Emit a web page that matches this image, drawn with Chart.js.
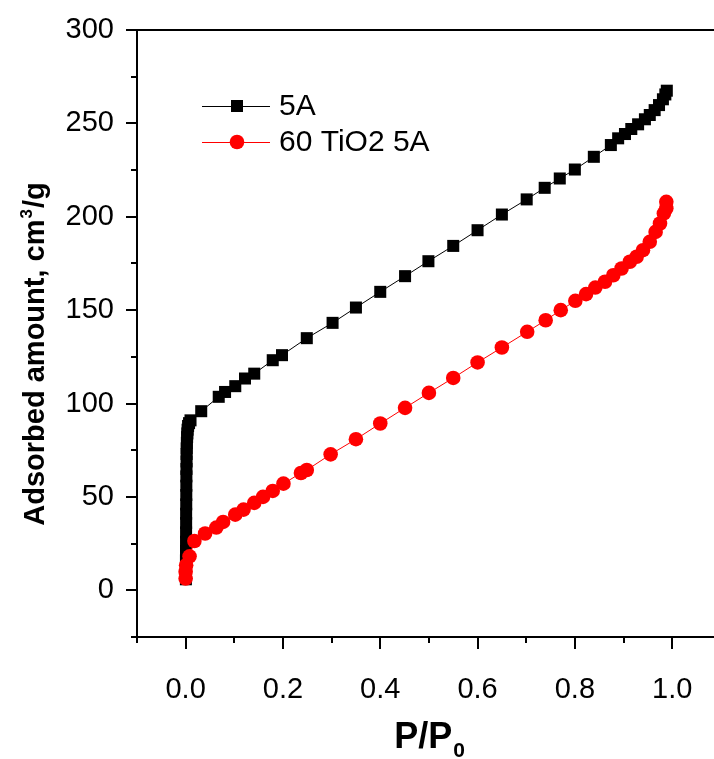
<!DOCTYPE html>
<html>
<head>
<meta charset="utf-8">
<script src="https://cdn.jsdelivr.net/npm/chart.js@4/dist/chart.umd.min.js"></script>
<style>
    html, body {
        margin: 0;
        padding: 0;
        background: #ffffff;
    }
    #chart-wrap {
        width: 714px;
        height: 759px;
        overflow: hidden;
    }
</style>
</head>
<body>
<div id="chart-wrap">
    <canvas id="isotherm-chart" width="714" height="759"></canvas>
</div>
<script>
// series names
const seriesNames = ['5A', '60 TiO2 5A'];

// 5A (black squares)
const zeoliteX = [0.0005, 0.0005, 0.0006, 0.0007, 0.0008, 0.0009, 0.001, 0.001, 0.0012, 0.0013, 0.0014, 0.0015,
    0.0017, 0.0019, 0.002, 0.0022, 0.0025, 0.003, 0.0035, 0.004, 0.005, 0.007, 0.01,
    0.032, 0.068, 0.081, 0.102, 0.122, 0.141, 0.179, 0.198, 0.249, 0.302, 0.35, 0.4, 0.451, 0.499, 0.55,
    0.6, 0.65, 0.701, 0.738, 0.769, 0.8, 0.839, 0.874, 0.889, 0.903, 0.916, 0.93, 0.944, 0.954, 0.964,
    0.973, 0.981, 0.986, 0.989];
const zeoliteY = [5.9, 11, 16, 21, 26, 31, 36, 41, 46, 51, 56, 61,
    65, 69, 73, 76, 79, 82, 84, 86, 88, 89.5, 91,
    95.9, 103.6, 106.2, 109.3, 113.4, 116, 123.2, 125.9, 135, 143.2, 151.4, 159.8, 168.2, 176.2, 184.4,
    192.8, 201.2, 209.3, 215.5, 220.5, 225.3, 232.1, 238.4, 242, 244.3, 247, 249.5, 252.2, 254.5, 257.1,
    259.8, 262.9, 265.5, 267.5];

// 60 TiO2 5A (red circles)
const titaniaX = [0, 0, 0.001, 0.008, 0.018, 0.04, 0.063, 0.077, 0.102, 0.119, 0.141, 0.159, 0.179, 0.201,
    0.237, 0.249, 0.298, 0.35, 0.4, 0.451, 0.5, 0.55, 0.6, 0.65, 0.702, 0.74, 0.771, 0.801, 0.823, 0.842,
    0.862, 0.879, 0.896, 0.913, 0.927, 0.94, 0.954, 0.966, 0.975, 0.983, 0.988, 0.988];
const titaniaY = [6.3, 10, 13.4, 18.2, 26.4, 30.4, 33.6, 36.6, 40.5, 43.2, 46.8, 50, 53.2, 57.1,
    62.8, 64.4, 72.8, 80.9, 89.3, 97.7, 105.7, 113.7, 122, 130, 138.4, 144.6, 150, 155, 158.6, 162.1,
    165.2, 168.7, 172.3, 175.9, 178.6, 182.1, 186.6, 191.9, 196.4, 201.8, 204.5, 208];

// axis ticks
const xTicks = [-0.1, 0, 0.1, 0.2, 0.3, 0.4, 0.5, 0.6, 0.7, 0.8, 0.9, 1.0];
const yTicks = [-25, 0, 25, 50, 75, 100, 125, 150, 175, 200, 225, 250, 275, 300];

const tickFont = "'Liberation Sans', Arial, sans-serif";

function toPoints(xs, ys) {
    let points = [];
    for (let i = 0; i < xs.length; i++) {
        points.push({x: xs[i], y: ys[i]});
    }
    return points;
}

// chart.js adds tick padding to the chart area margins, which we don't want here
function noScalePadding(scale) {
    scale.paddingTop = 0;
    scale.paddingBottom = 0;
    scale.paddingLeft = 0;
    scale.paddingRight = 0;
}

// draws frame line, tick marks, titles and the legend
const decorations = {
    id: 'decorations',
    afterDraw(chart) {
        const ctx = chart.ctx;
        const area = chart.chartArea;
        const xScale = chart.scales.x;
        const yScale = chart.scales.y;
        ctx.save();
        ctx.strokeStyle = '#000000';
        ctx.lineWidth = 2;

        // top frame line
        ctx.beginPath();
        ctx.moveTo(area.left - 1, area.top);
        ctx.lineTo(chart.width, area.top);
        ctx.stroke();

        // y ticks, major every 50
        for (const v of yTicks) {
            const py = Math.round(yScale.getPixelForValue(v));
            const len = (v % 50 === 0) ? 11 : 6;
            ctx.beginPath();
            ctx.moveTo(area.left - len, py);
            ctx.lineTo(area.left, py);
            ctx.stroke();
        }
        // x ticks, major every 0.2
        for (const v of xTicks) {
            const px = Math.round(xScale.getPixelForValue(v));
            const len = (Math.round(v * 10) % 2 === 0) ? 12 : 6;
            ctx.beginPath();
            ctx.moveTo(px, area.bottom);
            ctx.lineTo(px, area.bottom + len);
            ctx.stroke();
        }

        // x title P/P0
        ctx.fillStyle = '#000000';
        ctx.textBaseline = 'alphabetic';
        ctx.textAlign = 'left';
        ctx.font = "bold 36px " + tickFont;
        const mainW = ctx.measureText('P/P').width;
        ctx.font = "bold 21px " + tickFont;
        const subW = ctx.measureText('0').width;
        let startX = 429 - (mainW + subW) / 2;
        ctx.font = "bold 36px " + tickFont;
        ctx.fillText('P/P', startX, 748);
        ctx.font = "bold 21px " + tickFont;
        ctx.fillText('0', startX + mainW + 1, 757);

        // y title, rotated
        ctx.save();
        ctx.translate(44, 355);
        ctx.rotate(-Math.PI / 2);
        ctx.font = "bold 29px " + tickFont;
        const partA = 'Adsorbed amount, cm';
        const partC = '/g';
        const wA = ctx.measureText(partA).width;
        const wC = ctx.measureText(partC).width;
        ctx.font = "bold 17px " + tickFont;
        const wB = ctx.measureText('3').width;
        let sx = -(wA + wB + wC) / 2;
        ctx.font = "bold 29px " + tickFont;
        ctx.fillText(partA, sx, 0);
        ctx.font = "bold 17px " + tickFont;
        ctx.fillText('3', sx + wA + 1, -12);
        ctx.font = "bold 29px " + tickFont;
        ctx.fillText(partC, sx + wA + wB + 2, 0);
        ctx.restore();

        // legend
        const rows = [106, 142];
        chart.data.datasets.forEach((ds, i) => {
            const ly = rows[i];
            ctx.strokeStyle = ds.borderColor;
            ctx.lineWidth = 1;
            ctx.beginPath();
            ctx.moveTo(202, ly + 0.5);
            ctx.lineTo(270, ly + 0.5);
            ctx.stroke();
            ctx.fillStyle = ds.pointBackgroundColor;
            ctx.beginPath();
            if (ds.pointStyle === 'rect') {
                ctx.rect(237 - 6, ly - 6, 12, 12);
            } else {
                ctx.arc(237, ly, 7.3, 0, Math.PI * 2);
            }
            ctx.fill();
            ctx.fillStyle = '#000000';
            ctx.font = "30px " + tickFont;
            ctx.textBaseline = 'middle';
            ctx.fillText(ds.label, 279, ly + 1);
        });
        ctx.restore();
    }
};

const options = {
    type: 'scatter',
    data: {
        datasets: [
            {
                label: seriesNames[0],
                data: toPoints(zeoliteX, zeoliteY),
                showLine: true,
                borderColor: '#000000',
                borderWidth: 1,
                pointStyle: 'rect',
                pointRadius: 8.5,
                pointBorderWidth: 0,
                pointBackgroundColor: '#000000',
                pointBorderColor: '#000000',
                order: 2,
            },
            {
                label: seriesNames[1],
                data: toPoints(titaniaX, titaniaY),
                showLine: true,
                borderColor: '#ff0000',
                borderWidth: 1,
                pointStyle: 'circle',
                pointRadius: 7.3,
                pointBorderWidth: 0,
                pointBackgroundColor: '#ff0000',
                pointBorderColor: '#ff0000',
                order: 1,
            },
        ],
    },
    options: {
        responsive: false,
        animation: false,
        layout: {
            autoPadding: false,
            padding: {top: 30, left: 0, right: 0, bottom: 0},
        },
        plugins: {
            legend: {display: false},
            tooltip: {enabled: false},
        },
        scales: {
            x: {
                type: 'linear',
                min: -0.1,
                max: 1.086,
                afterBuildTicks: (scale) => {
                    scale.ticks = xTicks.map((v) => ({value: v}));
                },
                afterFit: (scale) => {
                    scale.height = 122;
                    noScalePadding(scale);
                },
                grid: {display: false, drawTicks: false},
                border: {display: true, color: '#000000', width: 2},
                ticks: {
                    padding: 36,
                    color: '#000000',
                    font: {family: tickFont, size: 29},
                    maxRotation: 0,
                    autoSkip: false,
                    callback: function (value) {
                        const k = Math.round(value * 10);
                        if (k < 0 || k % 2 !== 0) {
                            return '';
                        }
                        return (k / 10).toFixed(1);
                    }
                },
            },
            y: {
                type: 'linear',
                min: -25,
                max: 300,
                afterBuildTicks: (scale) => {
                    scale.ticks = yTicks.map((v) => ({value: v}));
                },
                afterFit: (scale) => {
                    scale.width = 137;
                    noScalePadding(scale);
                },
                grid: {display: false, drawTicks: false},
                border: {display: true, color: '#000000', width: 2},
                ticks: {
                    padding: 23,
                    color: '#000000',
                    font: {family: tickFont, size: 29},
                    autoSkip: false,
                    callback: function (value) {
                        if (value % 50 !== 0) {
                            return '';
                        }
                        return String(value);
                    }
                },
            },
        },
    },
    plugins: [decorations],
};

new Chart(document.querySelector('#isotherm-chart'), options);
</script>
</body>
</html>
